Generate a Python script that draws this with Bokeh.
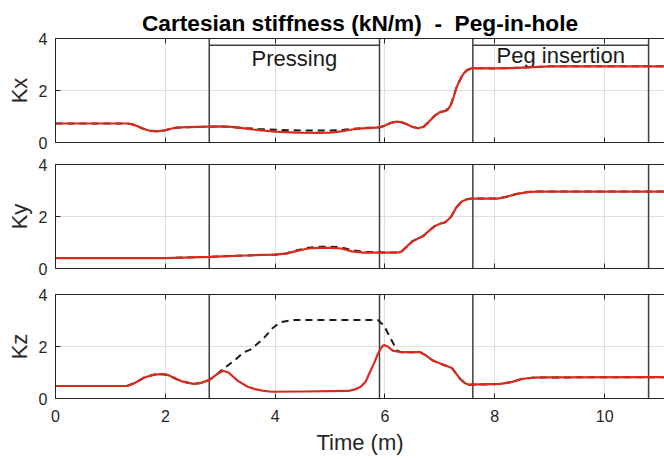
from bokeh.plotting import figure
from bokeh.models import Range1d, LinearAxis, FixedTicker, Title
from bokeh.layouts import column
from bokeh.embed import file_html
from bokeh.resources import INLINE
from bokeh.core.properties import value

FONT = "Liberation Sans"
AX = "#262626"
RED = "#d92a1c"
GRID = "#dfdfdf"
PHASE = "#404040"

# ---------------- data ----------------
x_ticks = [0, 2, 4, 6, 8, 10]
y_ticks = [0, 2, 4]
x_max = 11.09
y_max = 4

phase_start = [2.8, 7.6]
phase_end = [5.9, 10.8]
phase_names = ["Pressing", "Peg insertion"]
phase_label_y = [3.23, 3.36]
phase_box_level = 3.74

# Kx
kx_time = [0, 1.3, 1.4, 1.5, 1.6, 1.7, 1.85, 2.0, 2.1, 2.2, 2.4, 2.8, 3.0, 3.2, 3.4, 3.6, 3.8,
           4.0, 4.2, 4.4, 4.8, 5.0, 5.2, 5.4, 5.6, 5.9, 6.0, 6.1, 6.2, 6.3, 6.4, 6.5, 6.6, 6.7,
           6.8, 6.9, 7.0, 7.1, 7.15, 7.2, 7.25, 7.3, 7.35, 7.4, 7.45, 7.5, 7.55, 7.6, 8.0, 8.3,
           8.7, 9.0, 11.1]
kx_actual = [0.73, 0.73, 0.70, 0.62, 0.53, 0.46, 0.43, 0.47, 0.53, 0.57, 0.59, 0.61, 0.62, 0.60,
             0.55, 0.50, 0.46, 0.42, 0.40, 0.38, 0.37, 0.38, 0.43, 0.50, 0.54, 0.58, 0.65, 0.75,
             0.80, 0.78, 0.70, 0.60, 0.55, 0.60, 0.80, 1.02, 1.17, 1.21, 1.28, 1.45, 1.75, 2.10,
             2.35, 2.55, 2.70, 2.79, 2.84, 2.86, 2.85, 2.86, 2.90, 2.93, 2.93]
kx_ref_time = [0, 1.3, 1.4, 1.5, 1.6, 1.7, 1.85, 2.0, 2.1, 2.2, 2.4, 2.8, 3.0, 3.2, 3.4, 3.7,
               4.0, 4.3, 4.6, 5.0, 5.25, 5.6, 5.9, 6.0, 6.1, 6.2, 6.3, 6.4, 6.5, 6.6, 6.7, 6.8,
               6.9, 7.0, 7.1, 7.2, 7.3, 7.4, 7.5, 7.6, 8.0, 8.3, 8.7, 9.0, 11.1]
kx_ref = [0.73, 0.73, 0.70, 0.62, 0.53, 0.46, 0.43, 0.47, 0.53, 0.57, 0.59, 0.61, 0.62, 0.60,
          0.56, 0.52, 0.49, 0.47, 0.46, 0.46, 0.49, 0.56, 0.58, 0.65, 0.75, 0.80, 0.78, 0.70,
          0.60, 0.55, 0.60, 0.80, 1.02, 1.17, 1.21, 1.45, 2.10, 2.55, 2.79, 2.86, 2.85, 2.86,
          2.90, 2.93, 2.93]

# Ky
ky_time = [0, 2.0, 2.8, 3.6, 4.0, 4.2, 4.4, 4.6, 4.8, 5.0, 5.2, 5.4, 5.6, 6.0, 6.25, 6.3, 6.4,
           6.5, 6.6, 6.7, 6.8, 6.9, 7.0, 7.1, 7.2, 7.3, 7.4, 7.5, 7.6, 8.05, 8.2, 8.4, 8.6,
           8.75, 11.1]
ky_actual = [0.40, 0.40, 0.45, 0.51, 0.53, 0.57, 0.68, 0.77, 0.79, 0.79, 0.77, 0.66, 0.61,
             0.61, 0.62, 0.65, 0.85, 1.05, 1.15, 1.25, 1.45, 1.62, 1.72, 1.78, 1.98, 2.35,
             2.58, 2.67, 2.69, 2.69, 2.75, 2.87, 2.94, 2.96, 2.96]
ky_ref_time = [0, 2.0, 2.8, 3.6, 4.0, 4.2, 4.4, 4.6, 4.8, 5.0, 5.2, 5.4, 5.6, 6.0, 6.25, 6.3,
               6.4, 6.5, 6.6, 6.7, 6.8, 6.9, 7.0, 7.1, 7.2, 7.3, 7.4, 7.5, 7.6, 8.05, 8.2, 8.4,
               8.6, 8.75, 11.1]
ky_ref = [0.40, 0.40, 0.45, 0.51, 0.53, 0.58, 0.70, 0.80, 0.84, 0.84, 0.82, 0.70, 0.64, 0.62,
          0.62, 0.65, 0.85, 1.05, 1.15, 1.25, 1.45, 1.62, 1.72, 1.78, 1.98, 2.35, 2.58, 2.67,
          2.69, 2.69, 2.75, 2.87, 2.94, 2.96, 2.96]

# Kz
kz_time = [0, 1.3, 1.45, 1.62, 1.8, 1.93, 2.05, 2.16, 2.3, 2.51, 2.65, 2.8, 2.95, 3.05, 3.15,
           3.32, 3.5, 3.63, 3.8, 3.94, 4.5, 5.33, 5.45, 5.56, 5.65, 5.71, 5.8, 5.87, 5.93,
           5.98, 6.05, 6.14, 6.3, 6.41, 6.64, 6.75, 6.87, 7.06, 7.22, 7.3, 7.37, 7.45, 7.53,
           8.1, 8.3, 8.49, 8.7, 8.88, 11.1]
kz_actual = [0.48, 0.48, 0.60, 0.81, 0.92, 0.94, 0.90, 0.79, 0.66, 0.56, 0.60, 0.71, 0.95,
             1.07, 1.00, 0.68, 0.45, 0.36, 0.29, 0.26, 0.27, 0.29, 0.35, 0.45, 0.65, 0.94,
             1.35, 1.71, 1.95, 2.06, 2.00, 1.84, 1.78, 1.78, 1.78, 1.65, 1.46, 1.30, 1.17,
             0.95, 0.75, 0.60, 0.53, 0.56, 0.63, 0.75, 0.80, 0.81, 0.82]
kz_ref_time = [0, 1.3, 1.45, 1.62, 1.8, 1.93, 2.05, 2.16, 2.3, 2.51, 2.65, 2.8, 2.95, 3.05,
               3.25, 3.43, 3.55, 3.78, 3.95, 4.09, 4.33, 5.87, 5.98, 6.14, 6.22, 6.3, 6.41,
               6.64, 6.75, 6.87, 7.06, 7.22, 7.3, 7.37, 7.45, 7.53, 8.1, 8.3, 8.49, 8.7, 8.88,
               11.1]
kz_ref = [0.48, 0.48, 0.60, 0.81, 0.92, 0.94, 0.90, 0.79, 0.66, 0.56, 0.60, 0.71, 0.95, 1.13,
          1.45, 1.78, 1.88, 2.29, 2.70, 2.93, 3.02, 3.02, 2.81, 2.16, 1.84, 1.78, 1.78, 1.78,
          1.65, 1.46, 1.30, 1.17, 0.95, 0.75, 0.60, 0.53, 0.56, 0.63, 0.75, 0.80, 0.81, 0.82]

panels = [
    ("Kx", kx_time, kx_actual, kx_ref_time, kx_ref),
    ("Ky", ky_time, ky_actual, ky_ref_time, ky_ref),
    ("Kz", kz_time, kz_actual, kz_ref_time, kz_ref),
]

# layout (pixels)
fig_width = 664
fig_heights = [153, 130, 176]
borders_top = [38, 11, 11]
borders_bottom = [11, 15, 61]


def style_axis(ax, ticks, labels=True):
    ax.ticker = FixedTicker(ticks=ticks)
    ax.minor_tick_line_color = None
    ax.major_tick_in = 5
    ax.major_tick_out = 0
    ax.axis_line_color = AX
    ax.axis_line_width = 1
    ax.major_tick_line_color = AX
    ax.major_label_text_font = FONT
    if labels:
        ax.major_label_text_font_size = "16px"
        ax.major_label_text_color = AX
    else:
        ax.major_label_text_font_size = "1px"
        ax.major_label_text_color = None
        ax.major_label_standoff = 0
    ax.axis_label_text_font = FONT
    ax.axis_label_text_font_size = "22px"
    ax.axis_label_text_font_style = "normal"
    ax.axis_label_text_color = AX


figs = []
for i, (name, t, v, rt, rv) in enumerate(panels):
    p = figure(width=fig_width, height=fig_heights[i],
               x_range=Range1d(0, x_max), y_range=Range1d(0, y_max),
               output_backend="svg", toolbar_location=None,
               min_border_left=55, min_border_right=0,
               min_border_top=borders_top[i], min_border_bottom=borders_bottom[i])
    p.outline_line_color = None
    p.background_fill_color = "white"

    last = i == len(panels) - 1
    style_axis(p.xaxis[0], x_ticks, labels=last)
    if last:
        p.xaxis[0].major_label_standoff = 11
        p.xaxis[0].axis_label = "Time (m)"
        p.xaxis[0].axis_label_standoff = 5
    style_axis(p.yaxis[0], y_ticks)
    p.yaxis[0].major_label_standoff = 8

    p.add_layout(Title(text=name, align="center", text_font=FONT, text_font_size="22px",
                       text_font_style="normal", text_color=AX, standoff=8), "left")

    top = LinearAxis()
    style_axis(top, x_ticks, labels=False)
    p.add_layout(top, "above")

    p.xgrid.ticker = FixedTicker(ticks=x_ticks)
    p.ygrid.ticker = FixedTicker(ticks=y_ticks)
    for g in (p.xgrid, p.ygrid):
        g.grid_line_color = GRID
        g.grid_line_width = 1

    bounds = phase_start + phase_end
    p.segment(x0=bounds, y0=[0] * len(bounds), x1=bounds, y1=[y_max] * len(bounds),
              line_color=PHASE, line_width=1.5)

    if i == 0:
        p.segment(x0=phase_start, y0=[phase_box_level] * 2, x1=phase_end,
                  y1=[phase_box_level] * 2, line_color=PHASE, line_width=1.5)
        centers = [(a + b) / 2 for a, b in zip(phase_start, phase_end)]
        p.text(x=centers, y=phase_label_y, text=phase_names, text_align="center",
               text_baseline="middle", text_font=value(FONT), text_font_size="22px",
               text_color="#1a1a1a")

    p.line(rt, rv, line_color="#1a1a1a", line_width=2, line_dash="7 5")
    p.line(t, v, line_color=RED, line_width=2.2)

    if i == 0:
        p.title.text = "Cartesian stiffness (kN/m) \u00a0- \u00a0Peg-in-hole"
        p.title.align = "center"
        p.title.text_font = FONT
        p.title.text_font_size = "22.7px"
        p.title.text_font_style = "bold"
        p.title.text_color = "#000000"
        p.title.standoff = 5
        p.title.offset = 3

    figs.append(p)

layout = column(*figs)
open("out.html", "w").write(file_html(layout, INLINE))
